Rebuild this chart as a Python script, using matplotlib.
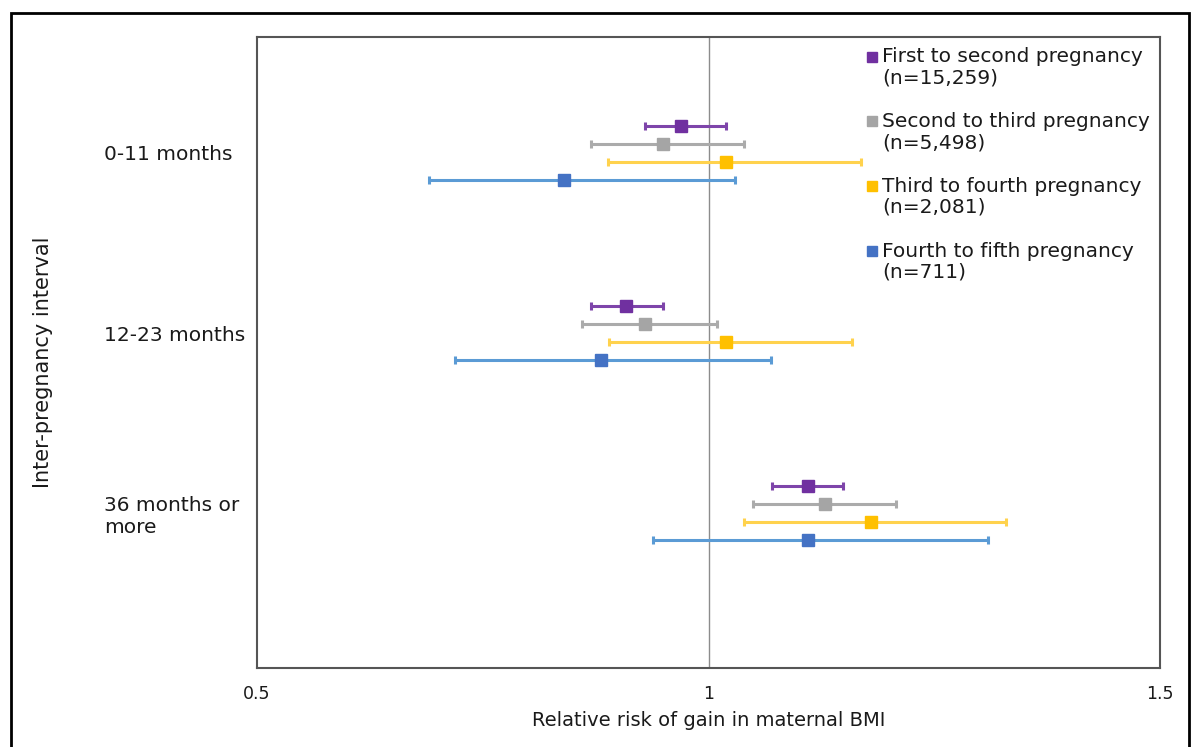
import matplotlib.pyplot as plt
from matplotlib.patches import Rectangle
from matplotlib.legend_handler import HandlerLine2D
import numpy as np

plt.rcParams['font.family'] = ['DejaVu Sans']

intervals = ['0-11 months', '12-23 months', '36 months or\nmore']
series = ['First to second pregnancy\n(n=15,259)',
          'Second to third pregnancy\n(n=5,498)',
          'Third to fourth pregnancy\n(n=2,081)',
          'Fourth to fifth pregnancy\n(n=711)']

# relative risk and 95% CI, one row per series, one column per interval
rr = np.array([[0.970, 0.909, 1.110],
               [0.950, 0.930, 1.129],
               [1.019, 1.019, 1.180],
               [0.840, 0.881, 1.110]])
lo = np.array([[0.930, 0.870, 1.070],
               [0.870, 0.860, 1.049],
               [0.889, 0.890, 1.039],
               [0.690, 0.719, 0.939]])
hi = np.array([[1.019, 0.950, 1.149],
               [1.039, 1.009, 1.208],
               [1.169, 1.159, 1.329],
               [1.029, 1.069, 1.309]])

marker_colors = ['#7030A0', '#A5A5A5', '#FFC000', '#4472C4']
line_colors = ['#7E45AA', '#ABABAB', '#FFD24D', '#5B9BD5']


class TopLineMarker(HandlerLine2D):
    # put the legend square next to the first line of a two-line label
    def create_artists(self, legend, orig_handle, xdescent, ydescent,
                       width, height, fontsize, trans):
        artists = super().create_artists(legend, orig_handle, xdescent,
                                         ydescent, width, height, fontsize,
                                         trans)
        for a in artists:
            a.set_ydata(np.asarray(a.get_ydata()) + 0.55 * fontsize)
        return artists


fig = plt.figure(figsize=(11.92, 7.47), dpi=100)
ax = fig.add_axes([0.2156, 0.1058, 0.7576, 0.8447])

# one row per series inside each interval group, groups 10 rows apart
group_pos = -10 * np.arange(len(intervals))

ax.axvline(1, color='#8C8C8C', lw=1.0, zorder=1)

for i in range(len(series)):
    y = group_pos - i
    ax.errorbar(rr[i], y, xerr=[rr[i] - lo[i], hi[i] - rr[i]], fmt='none',
                ecolor=line_colors[i], elinewidth=2.2, capsize=2.8,
                capthick=2.2, zorder=2)
    ax.plot(rr[i], y, 's', color=marker_colors[i], markersize=9,
            label=series[i], zorder=3)

ax.set_xlim(0.5, 1.5)
ax.set_ylim(-30.1, 4.94)
ax.set_xticks([0.5, 1, 1.5])
ax.set_xticklabels(['0.5', '1', '1.5'])
ax.set_yticks(group_pos - 1.5)
ax.set_yticklabels(intervals)
for lab in ax.get_yticklabels():
    lab.set_horizontalalignment('left')
ax.tick_params(axis='y', length=0, pad=110, labelsize=14.5, colors='#1a1a1a')
ax.tick_params(axis='x', length=0, pad=12, labelsize=12.5, colors='#1a1a1a')
ax.set_xlabel('Relative risk of gain in maternal BMI', fontsize=14,
              labelpad=6, color='#1a1a1a')

for s in ax.spines.values():
    s.set_color('#555555')
    s.set_linewidth(1.5)

fig.text(0.036, 0.515, 'Inter-pregnancy interval', rotation=90,
         ha='center', va='center', fontsize=15, color='#1a1a1a')

leg = ax.legend(loc='upper right', frameon=False, fontsize=14.5,
                handlelength=0.55, handletextpad=0.25, labelspacing=1.22,
                borderaxespad=0.1, markerscale=0.8,
                bbox_to_anchor=(1.0, 1.0),
                handler_map={plt.Line2D: TopLineMarker()})
for t in leg.get_texts():
    t.set_color('#1a1a1a')
    t.set_linespacing(1.15)

# outer border around the whole figure
fig.patches.append(Rectangle((11 / 1192, -0.01), 1178 / 1192, 1 - 13 / 747 + 0.01,
                             transform=fig.transFigure, fill=False,
                             edgecolor='black', lw=2))

fig.savefig('out.png', dpi=100)
